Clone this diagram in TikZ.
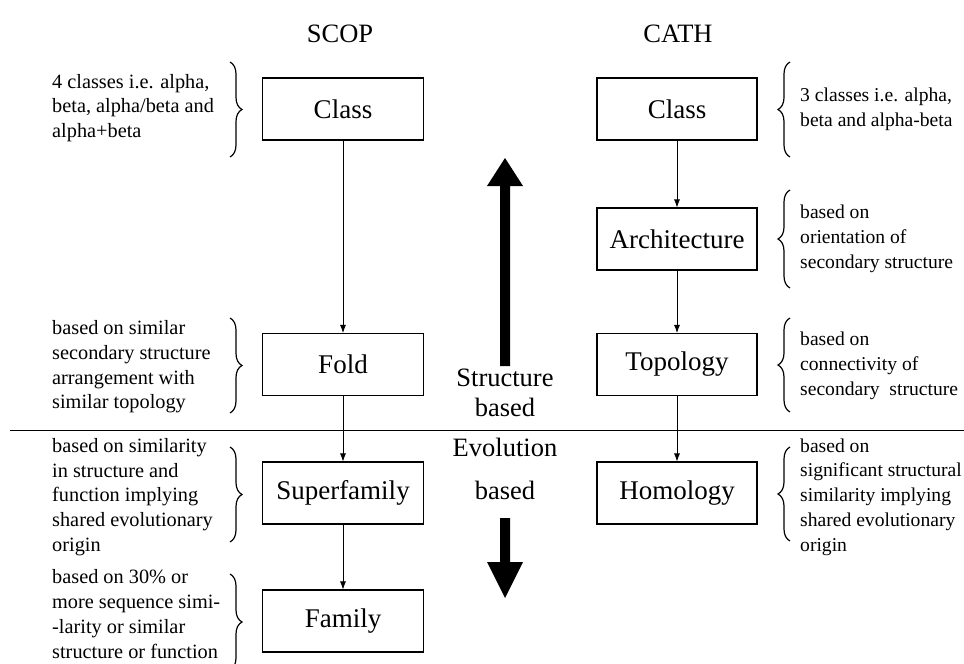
\documentclass[tikz,border=0pt]{standalone}
\usepackage{fontspec}
\setmainfont{Liberation Serif}
\usetikzlibrary{arrows.meta,decorations.pathreplacing}
\begin{document}
\begin{tikzpicture}[x=1pt,y=-1pt,
  box/.style={draw,line width=1.1pt,minimum width=161pt,minimum height=62pt,inner sep=0pt,font=\fontsize{27}{30}\selectfont},
  ttl/.style={font=\fontsize{26.5}{30}\selectfont},
  big/.style={font=\fontsize{26.5}{30}\selectfont},
  desc/.style={anchor=west,align=left,inner sep=0pt,font=\fontsize{20.3}{24.7}\selectfont},
  rdesc/.style={desc,font=\fontsize{19.6}{24.7}\selectfont},
  conn/.style={line width=0.8pt,-{Latex[length=8pt,width=6pt]}},
  brc/.style={line width=1.2pt,decorate,decoration={brace,amplitude=12pt}}]
\useasboundingbox (0,0) rectangle (964,664);
% titles
\node[ttl] (scop) at (340,34) {SCOP};
\node[ttl] (cath) at (678,34) {CATH};
% SCOP boxes
\node[box] (sclass) at (343,109) {Class};
\node[box] (sfold) at (343,364.5) {Fold};
\node[box] (ssup) at (343,493) {Superfamily};
\node[box] (sfam) at (343,621) {Family};
% CATH boxes
\node[box,minimum width=160pt] (cclass) at (677,109) {Class};
\node[box,minimum width=160pt] (carch) at (677,239) {Architecture};
\node[box,minimum width=160pt] (ctop) at (677,364.5) {Topology};
\node[box,minimum width=160pt] (chom) at (677,493) {Homology};
% connectors
\draw[conn] (sclass) -- (sfold);
\draw[conn] (sfold) -- (ssup);
\draw[conn] (ssup) -- (sfam);
\draw[conn] (cclass) -- (carch);
\draw[conn] (carch) -- (ctop);
\draw[conn] (ctop) -- (chom);
% divider
\coordinate (dl) at (10,430);
\coordinate (dr) at (964,430);
\draw[line width=0.9pt] (dl) -- (dr);
% big arrows
\fill (500,366) -- (510,366) -- (510,186) -- (523,186) -- (505,158) -- (487,186) -- (500,186) -- cycle;
\fill (500,518) -- (510,518) -- (510,562) -- (523,562) -- (505,598) -- (487,562) -- (500,562) -- cycle;
\node[big] (struct) at (505,378) {Structure};
\node[big] (sbased) at (505,407) {based};
\node[big] (evol) at (505,447) {Evolution};
\node[big] (ebased) at (505,490) {based};
% left braces
\draw[brc] (230,62) -- (230,157);
\draw[brc] (230,318) -- (230,413);
\draw[brc] (230,447) -- (230,542);
\draw[brc] (230,574) -- (230,670);
% right braces
\draw[brc] (790,157) -- (790,62);
\draw[brc] (790,288) -- (790,190);
\draw[brc] (790,412) -- (790,318);
\draw[brc] (790,541) -- (790,447);
% descriptions
\node[desc] (d1) at (52,108) {4 classes i.e. alpha,\\beta, alpha/beta and\\alpha+beta};
\node[desc] (d2) at (52,367) {based on similar\\secondary structure\\arrangement with\\similar topology};
\node[desc] (d3) at (52,497) {based on similarity\\in structure and\\function implying\\shared evolutionary\\origin};
\node[desc] (d4) at (52,614) {based on 30\% or\\more sequence simi-\\-larity or similar\\structure or function};
\node[rdesc] (d5) at (800,109) {3 classes i.e. alpha,\\beta and alpha-beta};
\node[rdesc] (d6) at (800,239) {based on\\orientation of\\secondary structure};
\node[rdesc] (d7) at (800,366) {based on\\connectivity of\\secondary\ \ structure};
\node[rdesc] (d8) at (800,497) {based on\\significant structural\\similarity implying\\shared evolutionary\\origin};
\end{tikzpicture}
\end{document}
